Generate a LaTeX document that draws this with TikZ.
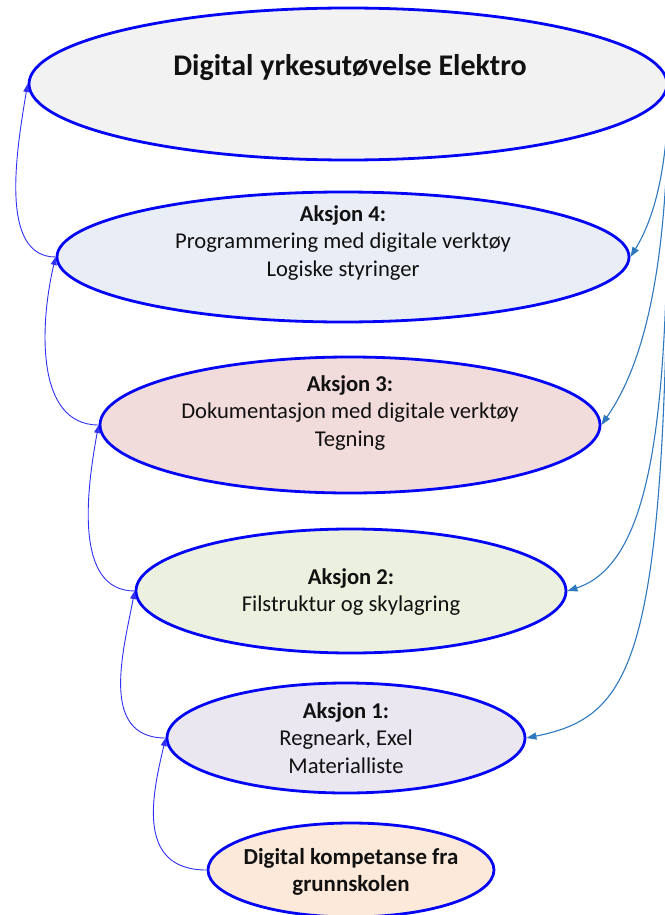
\documentclass[tikz,border=0pt]{standalone}
\usepackage{fontspec}
\setmainfont{Carlito}
\usetikzlibrary{shapes.geometric,arrows.meta}
\definecolor{ringblue}{HTML}{0505F5}
\definecolor{leftline}{HTML}{2F2FF5}
\definecolor{rightline}{HTML}{2E78BE}
\definecolor{txt}{HTML}{111111}
\definecolor{fillTop}{HTML}{F2F2F2}
\definecolor{fillA}{HTML}{E9EDF5}
\definecolor{fillB}{HTML}{F2DCDB}
\definecolor{fillC}{HTML}{EBF1DE}
\definecolor{fillD}{HTML}{EAE7F1}
\definecolor{fillE}{HTML}{FDE9D9}
\tikzset{
  ring/.style={ellipse, draw=ringblue, line width=2.8pt, inner sep=0pt},
  label/.style={text=txt, align=center, font=\fontsize{22.6}{27.5}\selectfont},
  uparrow/.style={draw=leftline, line width=0.9pt, -{Triangle[length=8pt,width=6pt]}},
  sidearrow/.style={draw=rightline, line width=1.1pt, -{Triangle[length=10pt,width=7pt]}}
}
\begin{document}
\begin{tikzpicture}[x=1pt,y=-1pt]
\useasboundingbox (0,0) rectangle (664,915);

\node[ring, fill=fillTop, minimum width=638pt, minimum height=152pt] (top) at (348,84) {};
\node[ring, fill=fillA, minimum width=572pt, minimum height=130pt] (a4) at (343,257) {};
\node[ring, fill=fillB, minimum width=500pt, minimum height=136pt] (a3) at (350,425) {};
\node[ring, fill=fillC, minimum width=430pt, minimum height=124pt] (a2) at (351,591) {};
\node[ring, fill=fillD, minimum width=358pt, minimum height=110pt] (a1) at (346,738) {};
\node[ring, fill=fillE, minimum width=286pt, minimum height=94pt] (base) at (351,870) {};

\node[label, font=\fontsize{30}{34}\selectfont\bfseries] (ttop) at (350,68) {Digital yrkesutøvelse Elektro};
\node[label] (t4) at (343,243) {\textbf{Aksjon 4:}\\Programmering med digitale verktøy\\Logiske styringer};
\node[label] (t3) at (350,413) {\textbf{Aksjon 3:}\\Dokumentasjon med digitale verktøy\\Tegning};
\node[label] (t2) at (351,592) {\textbf{Aksjon 2:}\\Filstruktur og skylagring};
\node[label] (t1) at (346,738) {\textbf{Aksjon 1:}\\Regneark, Exel\\Materialliste};
\node[label, font=\fontsize{22.9}{26.5}\selectfont\bfseries] (tbase) at (351,872) {Digital kompetanse fra\\grunnskolen};

% left feedback connectors
\draw[uparrow] (a4.west) .. controls +(-57,0) and +(-11,66) .. (top.west);
\draw[uparrow] (a3.west) .. controls +(-65,0) and +(-15,63) .. (a4.west);
\draw[uparrow] (a2.west) .. controls +(-61,0) and +(-12,65) .. (a3.west);
\draw[uparrow] (a1.west) .. controls +(-67,0) and +(-11,59) .. (a2.west);
\draw[uparrow] (base.west) .. controls +(-73,0) and +(-12,52) .. (a1.west);

% right connectors from the top
\draw[sidearrow] (top.east) .. controls +(0,76) and +(26,-42) .. (a4.east);
\draw[sidearrow] (top.east) .. controls +(0,176) and +(45,-65) .. (a3.east);
\draw[sidearrow] (top.east) .. controls +(0,276) and +(98,-32) .. (a2.east);
\draw[sidearrow] (top.east) .. controls +(1,566) and +(115,-23) .. (a1.east);
\end{tikzpicture}
\end{document}
